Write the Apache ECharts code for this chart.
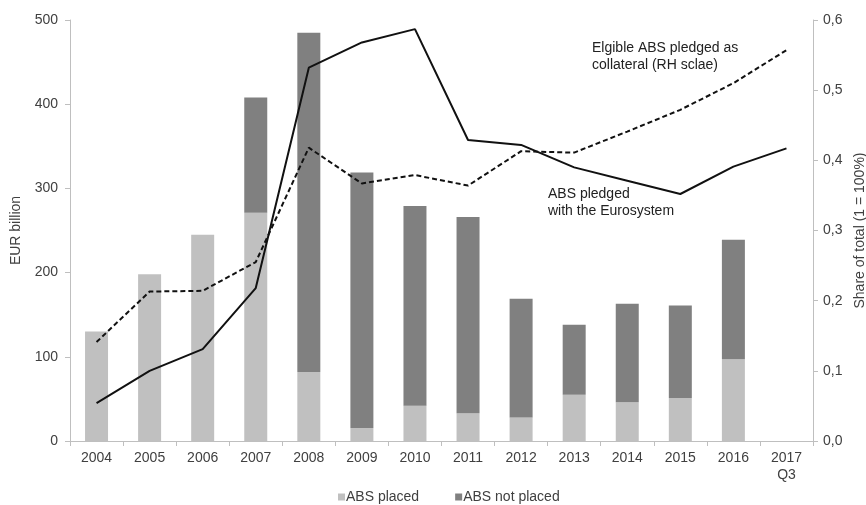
<!DOCTYPE html>
<html>
<head>
<meta charset="utf-8">
<script src="https://cdn.jsdelivr.net/npm/echarts@6/dist/echarts.min.js"></script>
<style>html,body{margin:0;padding:0;background:#fff;}#c{width:866px;height:505px;}</style>
</head>
<body>
<div id="c"></div>
<script>
const categories = ['2004','2005','2006','2007','2008','2009','2010','2011','2012','2013','2014','2015','2016','2017\nQ3'];
const absPlaced = [130, 198, 245, 271, 82, 15, 42, 33, 28, 55, 46, 51, 97, null];
const absNotPlaced = [0, 0, 0, 137, 403, 304, 237, 233, 141, 83, 117, 110, 142, null];
const pledgedEurosystem = [0.054, 0.100, 0.131, 0.218, 0.532, 0.568, 0.587, 0.429, 0.422, 0.390, 0.371, 0.352, 0.391, 0.417];
const eligiblePledged = [0.141, 0.213, 0.214, 0.255, 0.418, 0.367, 0.379, 0.364, 0.413, 0.411, 0.441, 0.472, 0.510, 0.557];
const leftTicks = [0, 100, 200, 300, 400, 500];
const rightTicks = [0, 0.1, 0.2, 0.3, 0.4, 0.5, 0.6];

const FONT = 'Liberation Sans, Arial, sans-serif';
const TXT = '#404040';
const FS = 14;
const chart = echarts.init(document.getElementById('c'), null, {renderer: 'canvas'});
chart.setOption({
  animation: false,
  backgroundColor: '#ffffff',
  textStyle: {fontFamily: FONT, color: TXT},
  grid: {left: 70, right: 53, top: 20, bottom: 64, containLabel: false, outerBoundsMode: 'none'},
  legend: {
    data: ['ABS placed', 'ABS not placed'],
    top: 485, left: 333,
    icon: 'rect', itemWidth: 7, itemHeight: 7, itemGap: 36,
    textStyle: {fontFamily: FONT, color: TXT, fontSize: FS, padding: [0,0,0,-4]}
  },
  xAxis: {
    type: 'category', data: categories,
    axisLine: {lineStyle: {color: '#bfbfbf', width: 1}},
    axisTick: {show: true, alignWithLabel: false, length: 5, lineStyle: {color: '#bfbfbf'}},
    axisLabel: {fontFamily: FONT, color: TXT, fontSize: FS, margin: 9, lineHeight: 17}
  },
  yAxis: [
    {
      type: 'value', min: 0, max: 500, interval: 100,
      name: 'EUR billion', nameLocation: 'middle', nameGap: 47, nameRotate: 90,
      nameTextStyle: {fontFamily: FONT, color: TXT, fontSize: FS},
      axisLine: {show: true, lineStyle: {color: '#bfbfbf'}},
      axisTick: {show: true, length: 5, lineStyle: {color: '#bfbfbf'}},
      splitLine: {show: false},
      axisLabel: {fontFamily: FONT, color: TXT, fontSize: FS, margin: 12,
        formatter: v => leftTicks.includes(v) ? String(v) : ''}
    },
    {
      type: 'value', min: 0, max: 0.6, interval: 0.1, position: 'right',
      name: 'Share of total (1 = 100%)', nameLocation: 'middle', nameGap: 37, nameRotate: 90,
      nameTextStyle: {fontFamily: FONT, color: TXT, fontSize: FS},
      axisLine: {show: true, lineStyle: {color: '#bfbfbf'}},
      axisTick: {show: true, length: 5, lineStyle: {color: '#bfbfbf'}},
      splitLine: {show: false},
      axisLabel: {fontFamily: FONT, color: TXT, fontSize: FS, margin: 10,
        formatter: v => {
          const t = rightTicks.find(r => Math.abs(r - v) < 1e-9);
          return t === undefined ? '' : t.toFixed(1).replace('.', ',');
        }}
    }
  ],
  series: [
    {name: 'ABS placed', type: 'bar', stack: 'abs', data: absPlaced, barWidth: 23,
      itemStyle: {color: '#c0c0c0'}},
    {name: 'ABS not placed', type: 'bar', stack: 'abs', data: absNotPlaced, barWidth: 23,
      itemStyle: {color: '#808080'}},
    {name: 'ABS pledged with the Eurosystem', type: 'line', yAxisIndex: 1, data: pledgedEurosystem,
      symbol: 'none', lineStyle: {color: '#111111', width: 2}, z: 5},
    {name: 'Elgible ABS pledged as collateral (RH sclae)', type: 'line', yAxisIndex: 1, data: eligiblePledged,
      symbol: 'none', lineStyle: {color: '#111111', width: 2, type: [5, 3]}, z: 5}
  ],
  graphic: [
    {type: 'text', left: 592, top: 40, style: {text: 'Elgible ABS pledged as\ncollateral (RH sclae)',
      font: FS + 'px ' + FONT, fill: '#222222', lineHeight: 17}},
    {type: 'text', left: 548, top: 186, style: {text: 'ABS pledged\nwith the Eurosystem',
      font: FS + 'px ' + FONT, fill: '#222222', lineHeight: 17}}
  ]
});
</script>
</body>
</html>
